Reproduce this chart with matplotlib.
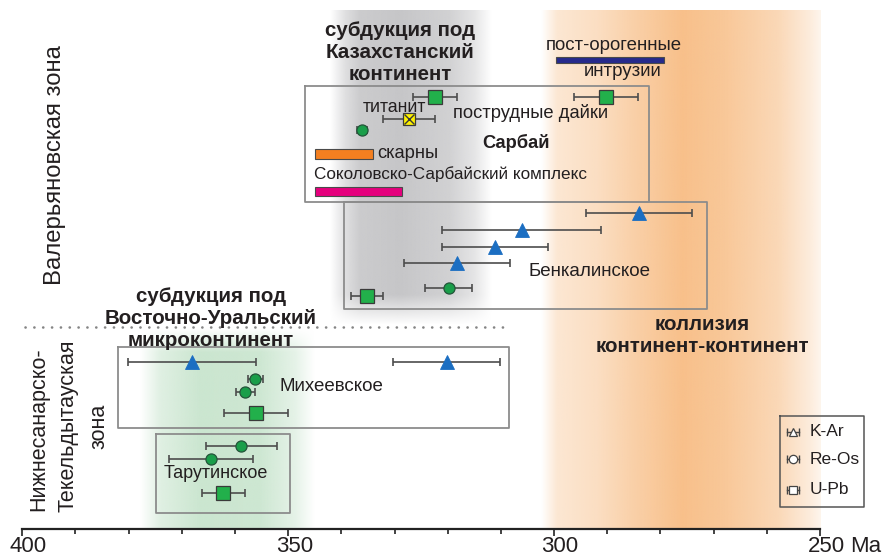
import numpy as np
import matplotlib
matplotlib.use("Agg")
import matplotlib.pyplot as plt
import matplotlib.transforms as mtransforms

# ---------------- data ----------------
# K-Ar (triangles)
kar_age = [284.0, 306.1, 311.1, 318.2, 368.1, 320.2]
kar_err = [10.0, 15.0, 10.0, 10.0, 12.0, 10.0]
kar_row = [213, 230, 246.7, 263.3, 361.7, 361.7]
# Re-Os (circles)
reos_age = [336.1, 319.8, 356.2, 358.1, 358.8, 364.5]
reos_err = [1.0, 4.4, 1.4, 1.8, 6.7, 7.9]
reos_row = [130, 288.3, 379.3, 392.3, 446, 458.7]
# U-Pb (squares)
upb_age = [322.4, 290.2, 335.1, 356.1, 362.2]
upb_err = [4.1, 6.0, 3.0, 6.0, 4.0]
upb_row = [96.5, 96.5, 295.7, 412.7, 492.7]
# titanite U-Pb
tit_age = [327.3]
tit_err = [4.9]
tit_row = [119.3]
# age ranges (bars): start, end
bar_names = ["скарны", "Соколовско-Сарбайский комплекс", "пост-орогенные интрузии"]
bar_start = [345.0, 345.0, 299.6]
bar_end = [334.1, 328.6, 279.3]
bar_row = [154.0, 191.7, 60.0]
bar_h = [10.6, 8.7, 6.6]
bar_colors = ["#f47f20", "#e5007d", "#262a8c"]
# deposit boxes: left, right (Ma), top, bottom (row)
box_names = ["Сарбай", "Бенкалинское", "Михеевское", "Тарутинское"]
box_left = [346.8, 339.6, 382.0, 374.9]
box_right = [282.2, 271.3, 308.5, 349.7]
box_top = [85.7, 202.3, 347.0, 434.3]
box_bot = [201.7, 309.0, 428.0, 513.3]

major_ticks = [400, 350, 300, 250]
minor_ticks = list(range(390, 250, -10))

# ---------------- figure ----------------
W, H = 884, 556
fig = plt.figure(figsize=(W / 100, H / 100), dpi=100)
x0px, x1px, axis_px = 22.3, 820.0, 529.0
ax = fig.add_axes([x0px / W, (H - axis_px) / H, (x1px - x0px) / W, axis_px / H])
ax.set_facecolor("none")

TXT = "#231f20"
REG = ["Liberation Sans", "DejaVu Sans"]


def band(xp, ap, yp, bp, rgb, y0, y1):
    xs = np.linspace(xp[0], xp[-1], 400)
    ys = np.linspace(y0, y1, 300)
    ax_ = np.interp(-xs, -np.array(xp), ap)
    ay_ = np.interp(ys, yp, bp)
    img = np.zeros((len(ys), len(xs), 4))
    img[..., 0] = rgb[0] / 255
    img[..., 1] = rgb[1] / 255
    img[..., 2] = rgb[2] / 255
    img[..., 3] = ay_[:, None] * ax_[None, :]
    ax.imshow(img, extent=(xs[0], xs[-1], ys[-1], ys[0]), origin="upper",
              aspect="auto", interpolation="bilinear", zorder=0)


# orange band (collision)
band([302.5, 299.5, 292, 285, 276, 268, 258, 252, 247.8],
     [0, 0.38, 0.52, 0.75, 1.0, 0.88, 0.62, 0.3, 0],
     [10, 529], [1, 1], (248, 192, 138), 10, 529)
# gray band (subduction, Kazakhstan)
band([342.1, 339.3, 336.5, 329.0, 319.6, 314.9, 311.7],
     [0, 0.55, 0.9, 1.0, 0.8, 0.45, 0],
     [10, 295, 325], [1, 1, 0], (198, 198, 200), 10, 325)
# green band (subduction, East Ural)
band([377.9, 374.1, 366.6, 355.3, 348.7, 345.0],
     [0, 0.6, 1.0, 0.95, 0.5, 0],
     [328, 352, 529], [0, 1, 1], (203, 230, 208), 328, 529)

# dotted separator
ax.plot([399.5, 309.6], [326.7, 326.7], color="#858585", lw=1.9,
        ls=(0, (0.05, 3.3)), dash_capstyle="round", zorder=2)

# deposit boxes
for l, r, t, b in zip(box_left, box_right, box_top, box_bot):
    ax.plot([l, r, r, l, l], [t, t, b, b, t], color="#8c8c8c", lw=1.3, zorder=2)

# age bars
for s, e, rw, hh, c in zip(bar_start, bar_end, bar_row, bar_h, bar_colors):
    ax.add_patch(plt.Rectangle((e, rw - hh / 2), s - e, hh, facecolor=c,
                               edgecolor="#4a4a4a", lw=0.8, zorder=3))

ekw = dict(fmt="none", ecolor="#4d4d4d", elinewidth=1.2, capsize=3.2,
           capthick=1.2, zorder=4)
ax.errorbar(kar_age, kar_row, xerr=kar_err, **ekw)
ax.errorbar(reos_age, reos_row, xerr=reos_err, **ekw)
ax.errorbar(upb_age, upb_row, xerr=upb_err, **ekw)
ax.errorbar(tit_age, tit_row, xerr=tit_err, **ekw)

ax.plot(kar_age, kar_row, ls="none", marker="^", ms=10, mfc="#1b6ec2",
        mec="#1b6ec2", mew=0.6, zorder=5)
ax.plot(reos_age, reos_row, ls="none", marker="o", ms=8, mfc="#1a9e4a",
        mec="#24553a", mew=0.9, zorder=5)
ax.plot(upb_age, upb_row, ls="none", marker="s", ms=9.5, mfc="#22b04b",
        mec="#3a3a3a", mew=0.9, zorder=5)
ax.plot(tit_age, tit_row, ls="none", marker="s", ms=9, mfc="#fff200",
        mec="#3a3a3a", mew=0.9, zorder=5)
ax.plot(tit_age, tit_row, ls="none", marker="x", ms=7.5, mec="#3a3a3a",
        mew=1.0, zorder=6)

# ---------------- texts ----------------
bold = dict(family=REG, fontweight="bold", color=TXT, ha="center",
            va="center", fontsize=14.8, linespacing=1.2, zorder=7)
ax.text(329.0, 52, "субдукция под\nКазахстанский\nконтинент", **bold)
ax.text(364.5, 318, "субдукция под\nВосточно-Уральский\nмикроконтинент", **bold)
ax.text(272.2, 336, "коллизия\nконтинент-континент", **bold)

reg = dict(family=REG, color=TXT, va="center", zorder=7)
ax.text(288.8, 46, "пост-орогенные", ha="center", fontsize=13.4, **reg)
ax.text(287.2, 71.5, "интрузии", ha="center", fontsize=13.4, **reg)
ax.text(335.9, 107.5, "титанит", ha="left", fontsize=12.8, **reg)
ax.text(319.0, 112.5, "пострудные дайки", ha="left", fontsize=13.2, **reg)
ax.text(313.6, 142.5, "Сарбай", ha="left", fontsize=13.2, fontweight="bold", **reg)
ax.text(333.3, 154, "скарны", ha="left", fontsize=13.2, **reg)
ax.text(345.2, 174, "Соколовско-Сарбайский комплекс", ha="left", fontsize=12.3, **reg)
ax.text(304.9, 271, "Бенкалинское", ha="left", fontsize=13.5, **reg)
ax.text(351.7, 386.7, "Михеевское", ha="left", fontsize=13.5, **reg)
ax.text(373.4, 474, "Тарутинское", ha="left", fontsize=13, **reg)

rot = dict(family=REG, color=TXT, ha="center", va="center", rotation=90,
           zorder=7)
ax.text(393.8, 165, "Валерьяновская зона", fontsize=17.2, **rot)
ax.text(397.0, 429, "Нижнесанарско-", fontsize=15.5, **rot)
ax.text(391.4, 426, "Текельдытауская", fontsize=15.5, **rot)
ax.text(385.6, 426, "зона", fontsize=15.5, **rot)

# legend (drawn manually, partly beyond the axis end)
leg_l, leg_r, leg_t, leg_b = 257.5, 241.7, 416.0, 507.0
ax.plot([leg_l, leg_r, leg_r, leg_l, leg_l], [leg_t, leg_t, leg_b, leg_b, leg_t],
        color="#555555", lw=1.1, zorder=7, clip_on=False)
leg_names = ["K-Ar", "Re-Os", "U-Pb"]
leg_markers = ["^", "o", "s"]
leg_rows = [431.7, 459.3, 490.0]
leg_x = 255.1
leg_e = 1.15
for nm, mk, rw in zip(leg_names, leg_markers, leg_rows):
    ax.plot([leg_x - leg_e, leg_x + leg_e], [rw, rw], color="#444444", lw=1.0,
            zorder=8, clip_on=False)
    ax.plot([leg_x - leg_e, leg_x + leg_e], [rw, rw], ls="none", marker="|",
            ms=6, mec="#444444", mew=1.0, zorder=8, clip_on=False)
    ax.plot([leg_x], [rw], ls="none", marker=mk, ms=6, mfc="white",
            mec="#444444", mew=0.9, zorder=9, clip_on=False)
    ax.text(251.9, rw, nm, ha="left", va="center", fontsize=12.5,
            family=REG, color=TXT, zorder=9, clip_on=False)

# ---------------- axis ----------------
ax.set_xlim(400, 250)
ax.set_ylim(axis_px, 0)
for s in ["top", "right", "left"]:
    ax.spines[s].set_visible(False)
ax.spines["bottom"].set_linewidth(1.6)
ax.spines["bottom"].set_color("#222222")
ax.set_yticks([])
ax.set_xticks(major_ticks)
ax.set_xticks(minor_ticks, minor=True)
ax.set_xticklabels([str(t) for t in major_ticks])
ax.tick_params(axis="x", which="major", direction="out", length=5, width=1.2,
               color="#222222", pad=0.0, labelsize=16, labelcolor=TXT)
ax.tick_params(axis="x", which="minor", direction="out", length=3.5, width=1.2,
               color="#222222")
narrow = ["Liberation Sans Narrow", "Liberation Sans", "DejaVu Sans"]
off = mtransforms.ScaledTranslation(6 / 100, 0, fig.dpi_scale_trans)
for lab in ax.get_xticklabels():
    lab.set_family(narrow)
    lab.set_transform(lab.get_transform() + off)
ax.text(1.0 + (850 - x1px) / (x1px - x0px), -6.5 / axis_px, "Ma",
        transform=ax.transAxes, ha="left", va="top", fontsize=16,
        family=narrow, color=TXT, clip_on=False)

fig.savefig("out.png", dpi=100)
